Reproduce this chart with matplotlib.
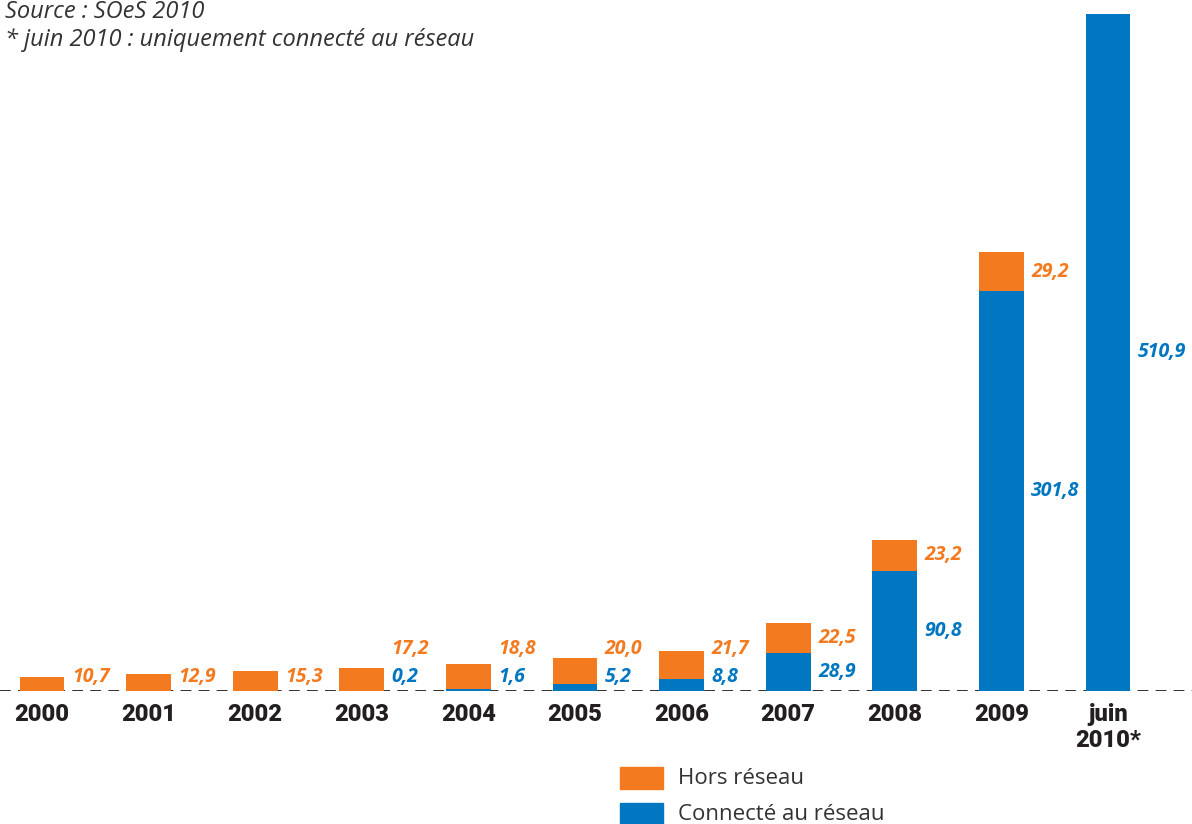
import matplotlib
matplotlib.use("Agg")
import matplotlib.pyplot as plt
from matplotlib.patches import Rectangle

years = ["2000", "2001", "2002", "2003", "2004", "2005", "2006", "2007", "2008", "2009", "juin\n2010*"]
hors_reseau = [10.7, 12.9, 15.3, 17.2, 18.8, 20.0, 21.7, 22.5, 23.2, 29.2, 0.0]
connecte = [0.0, 0.0, 0.0, 0.2, 1.6, 5.2, 8.8, 28.9, 90.8, 301.8, 510.9]
legend_labels = ["Hors réseau", "Connecté au réseau"]
source_lines = ["Source : SOeS 2010", "* juin 2010 : uniquement connecté au réseau"]

ORANGE = "#F47A20"
BLUE = "#0077C0"
DARK = "#231F20"

def fmt(v):
    return f"{v:.1f}".replace(".", ",")

fig = plt.figure(figsize=(11.92, 8.24), dpi=100)
W, H = 1192, 824
base_px = 691
top_px = 14
ax = fig.add_axes([0, (H - base_px) / H, 1, base_px / H])
spacing = 106.6
first = 42
ax.set_xlim(-first / spacing, (W - first) / spacing)
ymax = max(connecte) * base_px / (base_px - top_px)
ax.set_ylim(0, ymax)
ax.axis("off")

x = list(range(len(years)))
bw = 0.42
ax.bar(x, connecte, width=bw, color=BLUE, zorder=3, linewidth=0)
ax.bar(x, hors_reseau, width=bw, bottom=connecte, color=ORANGE, zorder=3, linewidth=0)
ax.axhline(0, color=DARK, lw=1.3, ls=(0, (6, 4)), zorder=2)

units_per_px = ymax / base_px
min_lab = 14 * units_per_px
gap = 28 * units_per_px
lab_font = dict(fontfamily="Open Sans", fontsize=14, fontstyle="italic", fontweight="bold", va="center", ha="left")
for i in x:
    xl = i + bw / 2 + 0.07
    b, o = connecte[i], hors_reseau[i]
    by = None
    if b > 0:
        by = max(b / 2, min_lab)
        ax.text(xl, by, fmt(b), color=BLUE, **lab_font)
    if o > 0:
        oy = max(b + o / 2, min_lab)
        if by is not None:
            oy = max(oy, by + gap)
        ax.text(xl, oy, fmt(o), color=ORANGE, **lab_font)

for i, lab in enumerate(years):
    fig.text((first + i * spacing) / W, 1 - 703 / H, lab, ha="center", va="top",
             fontfamily="Roboto", fontweight="black", fontsize=17, color=DARK, linespacing=1.15)

fig.text(5 / W, 1 - 12 / H, source_lines[0], ha="left", va="center", fontfamily="Open Sans",
         fontstyle="italic", fontsize=17, color="#333333")
fig.text(5 / W, 1 - 40 / H, source_lines[1], ha="left", va="center", fontfamily="Open Sans",
         fontstyle="italic", fontsize=17, color="#333333")

for (lab, col, yc) in [(legend_labels[0], ORANGE, 778), (legend_labels[1], BLUE, 814)]:
    fig.patches.append(Rectangle((620 / W, 1 - (yc + 11) / H), 43 / W, 22 / H,
                                 transform=fig.transFigure, color=col, figure=fig))
    fig.text(678 / W, 1 - yc / H, lab, ha="left", va="center", fontfamily="Open Sans",
             fontsize=16, color="#333333")

fig.savefig("out.png", dpi=100)
